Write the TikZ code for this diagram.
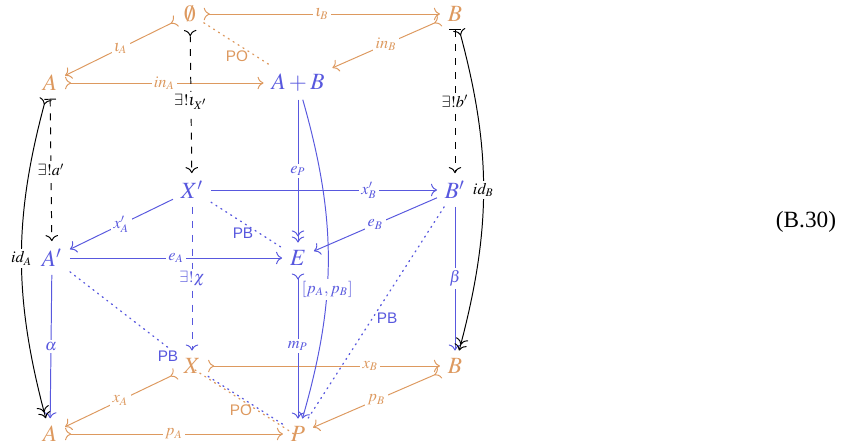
\documentclass[tikz,border=0pt]{standalone}
\usepackage{amssymb}
\usepackage{mathptmx}
\usepackage[no-math]{fontspec}
\setmainfont{Liberation Serif}
\setsansfont{Liberation Sans}
\usetikzlibrary{arrows.meta,backgrounds}
\definecolor{orng}{RGB}{221,153,95}
\definecolor{blu}{RGB}{88,88,222}
\tikzset{
  obj/.style={inner sep=3.2pt},
  desc/.style={fill=white, inner sep=1pt, font=\scriptsize},
  sfl/.style={font=\sffamily\fontsize{6.6}{7}\selectfont, inner sep=1pt},
  dotl/.style={dash pattern=on 0.5pt off 2pt, line cap=round, line width=0.55pt}
}
\begin{document}
\begin{tikzpicture}[x=0.43pt,y=-0.43pt, line width=0.42pt,
  >={Computer Modern Rightarrow[length=2.6pt,width=5.4pt]}]
\useasboundingbox (0,0) rectangle (858,447);
% objects
\node[obj,text=orng] (O)  at (190,14)  {$\emptyset$};
\node[obj,text=orng] (B1) at (455,14)  {$B$};
\node[obj,text=orng] (A1) at (50,83)   {$A$};
\node[obj,text=blu]  (AB) at (298,83)  {$A+B$};
\node[obj,text=blu]  (Xp) at (192,190) {$X'$};
\node[obj,text=blu]  (Bp) at (455,190) {$B'$};
\node[obj,text=blu]  (Ap) at (52,258)  {$A'$};
\node[obj,text=blu]  (E)  at (298,258) {$E$};
\node[obj,text=orng] (X)  at (192,366) {$X$};
\node[obj,text=orng] (B2) at (455,366) {$B$};
\node[obj,text=orng] (A2) at (50,434)  {$A$};
\node[obj,text=orng] (P)  at (298,434) {$P$};
\node (eq) at (806,222) {(B.30)};

% dotted pullback / pushout markers
\begin{scope}[on background layer]
\draw[orng,dotl] (O) -- (AB);
\draw[blu,dotl] (Xp) -- (E);
\draw[blu,dotl] (Ap) -- (X);
\draw[blu,dotl] (X) -- (P);
\draw[orng,dotl] ([shift={(3,4)}]X.center) -- ([shift={(-4,0)}]P.center);
\draw[blu,dotl] (Bp) -- (P);
\end{scope}
\node[sfl,text=orng] (po1) at (237,56) {PO};
\node[sfl,text=blu]  (pb1) at (243,233) {PB};
\node[sfl,text=blu,fill=white] (pb2) at (168,356) {PB};
\node[sfl,text=blu]  (pb3) at (387,318) {PB};
\node[sfl,text=orng] (po2) at (241,410) {PO};

% orange arrows
\draw[orng,>->] (O) -- node[desc]{$\iota_B$} (B1);
\draw[orng,>->] (O) -- node[desc]{$\iota_A$} (A1);
\draw[orng,>->] (A1) -- node[desc]{$in_A$} (AB);
\draw[orng,>->] (B1) -- node[desc]{$in_B$} (AB);
\draw[orng,>->] (X) -- node[desc,pos=0.7]{$x_B$} (B2);
\draw[orng,>->] (X) -- node[desc]{$x_A$} (A2);
\draw[orng,>->] (A2) -- node[desc]{$p_A$} (P);
\draw[orng,>->] (B2) -- node[desc]{$p_B$} (P);

% blue arrows
\draw[blu,->>] (AB) -- node[desc]{$e_P$} (E);
\draw[blu,>->] (E) -- node[desc]{$m_P$} (P);
\draw[blu,->] (AB) to[bend left=16] node[desc,pos=0.6]{$[p_A,p_B]$} (P);
\draw[blu,->] (Xp) -- node[desc,pos=0.7]{$x'_B$} (Bp);
\draw[blu,->] (Xp) -- node[desc]{$x'_A$} (Ap);
\draw[blu,->] (Ap) -- node[desc]{$e_A$} (E);
\draw[blu,->] (Bp) -- node[desc]{$e_B$} (E);
\draw[blu,->] (Ap) -- node[desc]{$\alpha$} (A2);
\draw[blu,->] (Bp) -- node[desc]{$\beta$} (B2);
\draw[blu,->,dashed] (Xp) -- node[desc]{$\exists!\chi$} (X);

% black arrows
\draw[>->,dashed] (O) -- node[desc]{$\exists!\iota_{X'}$} (Xp);
\draw[{Bar[width=5pt]}->,dashed] (A1) -- node[desc]{$\exists!a'$} (Ap);
\draw[{Bar[width=5pt]}->,dashed] (B1) -- node[desc]{$\exists!b'$} (Bp);
\draw[>->>] (A1) to[bend right=15] node[desc]{$id_A$} (A2);
\draw[>->>] (B1) to[bend left=15] node[desc]{$id_B$} (B2);
\end{tikzpicture}
\end{document}
